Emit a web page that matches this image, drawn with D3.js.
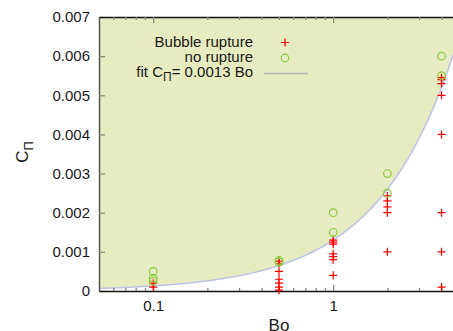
<!DOCTYPE html>
<html>
<head>
<meta charset="utf-8">
<script src="https://cdn.jsdelivr.net/npm/d3@7"></script>
<style>
  body { margin: 0; background: #fff; }
  text { font-family: "Liberation Sans", Arial, sans-serif; fill: #1a1a1a; }
</style>
</head>
<body>
<div id="chart"></div>
<script>
// Bond numbers (x) and C_Pi values (y)
const ruptureBo = [0.1, 0.1,
  0.5, 0.5, 0.5, 0.5, 0.5, 0.5, 0.5,
  1, 1, 1, 1, 1, 1, 1,
  2, 2, 2, 2, 2,
  4, 4, 4, 4, 4, 4, 4, 4];
const ruptureC = [0.0002, 0.0001,
  0.00076, 0.0007, 0.0005, 0.0003, 0.0002, 0.0001, 0.00002,
  0.0013, 0.00125, 0.0012, 0.00095, 0.00088, 0.0008, 0.0004,
  0.00243, 0.0023, 0.00215, 0.002, 0.001,
  0.0054, 0.0053, 0.005, 0.004, 0.002, 0.001, 0.0001, 0.00545];
const noRuptureBo = [0.1, 0.1, 0.1, 0.5, 0.5, 1, 1, 2, 2, 4, 4];
const noRuptureC = [0.0005, 0.00033, 0.00025, 0.00078, 0.00074, 0.002, 0.0015, 0.003, 0.0025, 0.006, 0.0055];
const fitCoef = 0.0013;

const yTicks = [0, 0.001, 0.002, 0.003, 0.004, 0.005, 0.006, 0.007];
const xLabelTicks = [0.1, 1];
const xMinorTicks = [0.06, 0.07, 0.08, 0.09, 0.2, 0.3, 0.4, 0.5, 0.6, 0.7, 0.8, 0.9, 2, 3, 4, 5];

const width = 453, height = 331;
const pL = 99, pR = 459, pT = 17, pB = 291;

const svg = d3.select("#chart").append("svg")
  .attr("width", width)
  .attr("height", height);

const x = d3.scaleLog().domain([0.05, 5]).range([pL, pR]);
const y = d3.scaleLinear().domain([0, 0.007]).range([pB, pT]);

svg.append("defs").append("clipPath").attr("id", "plot")
  .append("rect")
  .attr("x", pL).attr("y", pT)
  .attr("width", pR - pL).attr("height", pB - pT);

// fit curve sampled along the log axis
const fitBo = d3.range(0, 201).map(i => 0.05 * Math.pow(10, i / 100 * 1.1));
const fitPts = fitBo.map(b => [b, fitCoef * b]);

const plot = svg.append("g").attr("clip-path", "url(#plot)");

plot.append("path")
  .datum(fitPts)
  .attr("fill", "#e6ebc1")
  .attr("d", d3.area().x(d => x(d[0])).y0(y(0.007) - 5).y1(d => y(d[1])));

plot.append("path")
  .datum(fitPts)
  .attr("fill", "none")
  .attr("stroke", "#bcc3e6")
  .attr("stroke-width", 1.5)
  .attr("d", d3.line().x(d => x(d[0])).y(d => y(d[1])));

// axes
const fmt = d => d === 0 ? "0" : d3.format(".3f")(d);

const yAxis = svg.append("g")
  .attr("transform", `translate(${pL},0)`)
  .call(d3.axisLeft(y).tickValues(yTicks).tickSize(-6).tickSizeOuter(0).tickPadding(9).tickFormat(fmt));
yAxis.select(".domain").attr("stroke", "#555").attr("stroke-width", 1.5);

const yAxisR = svg.append("g")
  .attr("transform", `translate(${pR},0)`)
  .call(d3.axisRight(y).tickValues(yTicks).tickSize(-6).tickSizeOuter(0).tickFormat(""));
yAxisR.select(".domain").remove();

const xAxis = svg.append("g")
  .attr("transform", `translate(0,${pB})`)
  .call(d3.axisBottom(x).tickValues(xLabelTicks).tickSize(-6).tickSizeOuter(0).tickPadding(9)
    .tickFormat(d3.format("")));
xAxis.select(".domain").attr("stroke", "#111").attr("stroke-width", 1.5);

svg.append("g")
  .attr("transform", `translate(0,${pB})`)
  .call(d3.axisBottom(x).tickValues(xMinorTicks).tickSize(-3).tickSizeOuter(0).tickFormat(""))
  .select(".domain").remove();

const xAxisT = svg.append("g")
  .attr("transform", `translate(0,${pT})`)
  .call(d3.axisTop(x).tickValues(xLabelTicks).tickSize(-6).tickSizeOuter(0).tickFormat(""));
xAxisT.select(".domain").attr("stroke", "#111").attr("stroke-width", 1.5);

svg.append("g")
  .attr("transform", `translate(0,${pT})`)
  .call(d3.axisTop(x).tickValues(xMinorTicks).tickSize(-3).tickSizeOuter(0).tickFormat(""))
  .select(".domain").remove();

svg.selectAll(".tick line").attr("stroke", "#8a8a82").attr("stroke-width", 1.3);
svg.selectAll(".tick text").attr("font-size", 15).attr("fill", "#1a1a1a")
  .attr("font-family", "'Liberation Sans', Arial, sans-serif");

// points
const plus = (g, cx, cy) => g.append("path")
  .attr("d", `M${cx - 4},${cy}H${cx + 4}M${cx},${cy - 4}V${cy + 4}`)
  .attr("stroke", "#ff0000").attr("stroke-width", 1.2).attr("fill", "none");

const pts = svg.append("g");
ruptureBo.forEach((b, i) => plus(pts, x(b), y(ruptureC[i])));

svg.append("g").selectAll("circle")
  .data(noRuptureBo)
  .join("circle")
  .attr("cx", d => x(d))
  .attr("cy", (d, i) => y(noRuptureC[i]))
  .attr("r", 3.8)
  .attr("fill", "none")
  .attr("stroke", "#8acb3c")
  .attr("stroke-width", 1.2);

// legend
const lg = svg.append("g").attr("font-size", 15).attr("text-anchor", "end");
lg.append("text").attr("x", 253).attr("y", 47).text("Bubble rupture");
lg.append("text").attr("x", 253).attr("y", 62).text("no rupture");
const fitText = lg.append("text").attr("x", 253).attr("y", 77);
fitText.append("tspan").text("fit C");
fitText.append("tspan").attr("font-size", 12).attr("dy", 4).text("Π");
fitText.append("tspan").attr("dy", -4).text("= 0.0013 Bo");

plus(svg, 285, 42.5);
svg.append("circle").attr("cx", 285).attr("cy", 58).attr("r", 3.8)
  .attr("fill", "none").attr("stroke", "#8acb3c").attr("stroke-width", 1.2);
svg.append("line").attr("x1", 264).attr("x2", 308).attr("y1", 73.5).attr("y2", 73.5)
  .attr("stroke", "#b4b6b6").attr("stroke-width", 1.3);

// axis titles
const yl = svg.append("text")
  .attr("transform", "translate(28,152) rotate(-90)")
  .attr("text-anchor", "middle")
  .attr("font-size", 17);
yl.append("tspan").text("C");
yl.append("tspan").attr("font-size", 13).attr("dy", 5).text("Π");

svg.append("text")
  .attr("x", 279).attr("y", 331)
  .attr("text-anchor", "middle")
  .attr("font-size", 17)
  .text("Bo");
</script>
</body>
</html>
